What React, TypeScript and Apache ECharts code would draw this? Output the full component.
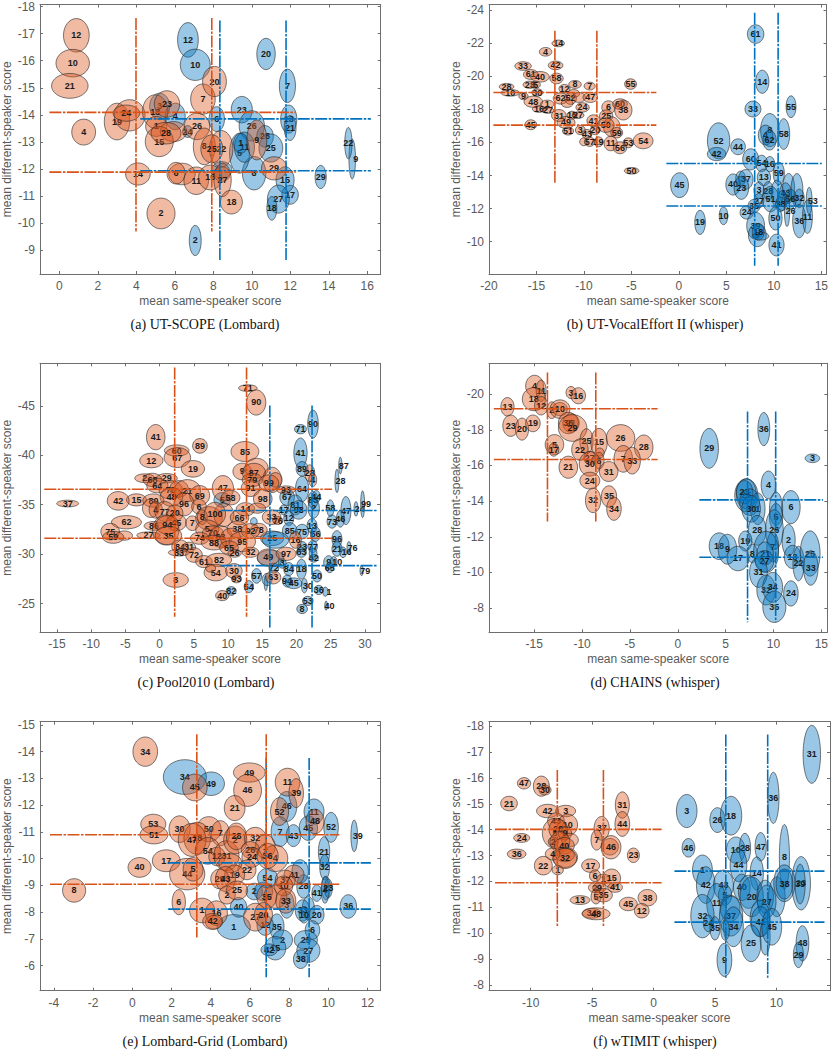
import React, { useEffect, useRef } from "react";
import * as echarts from "echarts";

type E = [string | number, number, number, number, number];

const aBlue: E[] = [[3,5.21,-14.31,.52,.49],[4,6.02,-13.94,.52,.49],[24,6.66,-13.38,.26,.22],[12,6.68,-16.77,.54,.64],[10,7.06,-15.85,.78,.58],[20,10.74,-16.25,.48,.58],[7,11.85,-15.07,.42,.62],[23,9.48,-14.19,.55,.49],[13,11.92,-13.84,.42,.52],[21,11.99,-13.51,.31,.46],[6,8.18,-13.84,.4,.46],[26,10,-13.59,.66,.56],[28,10.69,-13.2,.43,.4],[25,10.99,-12.77,.62,.52],[9,15.22,-12.36,.17,.74],[22,15.02,-12.95,.19,.58],[29,13.58,-11.7,.29,.43],[8,10.12,-11.84,.61,.62],[5,9.36,-12.58,.52,.74],[11,9.62,-12.8,.52,.56],[1,9.43,-12.95,.38,.37],[17,11.99,-11.04,.43,.35],[15,11.73,-11.59,.47,.49],[27,11.38,-10.88,.57,.52],[18,11.04,-10.54,.26,.44],[2,7.06,-9.35,.31,.56],["",8.44,-11.96,.52,.31]];
const aRed: E[] = [[12,.88,-16.94,.67,.62],[10,.69,-15.91,.87,.51],[21,.54,-15.07,.95,.46],[4,1.26,-13.36,.62,.48],[19,2.99,-13.75,.66,.68],["",3.65,-13.98,.8,.58],[24,3.48,-14.06,.69,.3],[13,4.98,-14.12,.66,.62],[23,5.59,-14.4,.66,.49],[1,5.03,-13.57,.55,.37],["",5.93,-13.38,.69,.37],[15,5.19,-13.01,.73,.56],[28,5.54,-13.32,.78,.4],[26,7.15,-13.57,.66,.49],[7,7.46,-14.58,.64,.56],[20,8.06,-15.23,.62,.56],[8,7.53,-12.83,.57,.68],[22,8.41,-12.74,.61,.68],[25,7.92,-12.74,.57,.52],["",6.37,-11.81,.69,.4],[6,6.06,-11.84,.47,.4],[14,4.08,-11.81,.64,.41],[11,7.11,-11.56,.64,.51],[16,7.84,-11.68,.61,.46],["",8.44,-11.81,.43,.27],[27,8.48,-11.59,.45,.62],[18,8.94,-10.77,.57,.44],[2,5.28,-10.35,.73,.57],[29,11.16,-12.02,.66,.43],[9,10.26,-13.07,.52,.74]];
const aRedLines = { v: [3.98, 7.92], vs: [-17.58, -9.68], h: [-14.09, -11.88], hs: [-0.52, 12.28] };
const aBlueLines = { v: [8.34, 11.78], vs: [-17.49, -8.6], h: [-13.85, -11.93], hs: [4.2, 16.19] };

const bBlue: E[] = [[61,8.08,-22.55,.87,.56],[14,8.78,-19.67,.7,.7],[55,11.81,-18.16,.52,.66],[33,7.8,-18.02,.84,.48],[8,9.58,-16.75,.98,1],[4,9.13,-16.45,.77,.6],[62,9.54,-16.14,.7,.6],[58,11.04,-16.51,.63,.93],[52,4.18,-16.1,1.18,1.09],[42,3.97,-15.3,.98,.4],[44,6.23,-15.74,.77,.48],[60,7.56,-14.98,.84,.64],[54,8.71,-14.73,.63,.5],[16,9.58,-14.69,.52,.46],[59,10.52,-14.13,.59,.68],[45,.07,-13.42,.94,.75],[13,8.95,-13.89,.7,.5],["",6.5,-13.83,.52,.44],[37,7.04,-13.77,.77,.6],[40,5.71,-13.46,.77,.64],[23,6.58,-13.26,.77,.7],[3,8.43,-13.12,.52,.5],[28,9.4,-13.08,.52,.56],["",11.56,-13.22,.63,.91],["",12.43,-13.12,.63,1],[43,11.22,-12.92,.63,.64],[56,11.74,-12.58,.63,.6],[32,12.68,-12.62,.52,.56],[53,13.72,-12.48,.31,.81],["",10.34,-12.92,.63,.81],[51,9.65,-12.58,.87,.77],["",10.87,-12.48,.52,.6],[38,10.69,-12.26,.52,.44],[27,8.43,-12.48,.52,.44],[35,7.91,-12.16,.63,.4],[24,7.14,-11.77,.7,.4],[26,11.39,-11.87,.28,.95],[50,10.17,-11.41,.7,.7],[36,12.68,-11.25,.7,1.01],[11,13.54,-11.51,.52,1.01],[10,4.7,-11.57,.45,.54],[19,2.23,-11.17,.56,.73],[39,8.08,-10.97,.94,.81],[9,8.26,-10.4,.94,.7],["",8.6,-10.34,.87,.24],[18,8.36,-10.6,.63,.5],[41,10.28,-9.8,.8,.66]];
const bRed: E[] = [[14,-12.71,-21.99,.66,.2],[4,-14.04,-21.48,.66,.26],[33,-16.41,-20.62,.87,.26],[42,-12.99,-20.66,.77,.26],[61,-15.6,-20.11,.77,.3],[40,-14.63,-19.97,.98,.32],[58,-12.89,-19.87,.7,.32],[23,-15.71,-19.49,.7,.22],[5,-15.08,-19.49,.49,.22],[28,-18.15,-19.37,.77,.2],[10,-17.76,-19,.98,.2],[30,-14.91,-19.02,.59,.22],[9,-16.37,-18.8,.49,.22],[48,-15.33,-18.46,.98,.34],[1,-13.86,-18.32,.7,.24],[16,-14.73,-18.02,.7,.2],[27,-13.79,-17.94,.63,.18],[8,-10.94,-19.51,.66,.24],[7,-9.4,-19.41,.59,.24],[12,-12.05,-19.25,.59,.26],[55,-5.09,-19.53,.63,.32],["",-11.08,-18.96,.63,.24],[62,-12.47,-18.66,.77,.34],[52,-11.42,-18.66,.63,.36],["",-10.55,-18.72,.7,.3],[47,-9.33,-18.72,.77,.3],["",-11.77,-18.36,.63,.24],[24,-10.14,-18.12,.7,.28],[31,-12.64,-17.63,.77,.36],[49,-11.88,-17.21,.94,.36],[51,-11.67,-16.69,.59,.24],[15,-11.25,-17.65,.52,.24],[27,-10.62,-17.65,.63,.2],[6,-7.42,-18.12,.7,.4],[60,-6.2,-18.32,.77,.32],[38,-5.85,-17.96,.91,.6],[25,-7.66,-17.61,.7,.36],[41,-8.99,-17.31,.7,.36],["",-7.07,-16.95,.87,.6],[50,-7.7,-17.05,.87,.44],[59,-6.55,-16.59,.63,.32],[3,-10.38,-16.75,.52,.28],[43,-9.68,-16.51,.52,.28],[20,-8.81,-16.75,.52,.28],["",-10.03,-16.04,.42,.24],[57,-9.4,-16.04,.56,.28],[19,-8.46,-16.04,.49,.3],[11,-7.18,-15.94,.7,.44],[56,-6.2,-15.68,.7,.36],[53,-5.33,-15.98,.56,.3],[54,-3.76,-16.1,1.04,.48],[50,-4.98,-14.29,.77,.2],[45,-15.6,-17.07,.63,.3]];
const bRedLines = { v: [-13.06, -8.64], vs: [-22.75, -13.57], h: [-19.02, -17.05], hs: [-19.54, -2.37] };
const bBlueLines = { v: [7.98, 10.45], vs: [-23.84, -8.55], h: [-14.73, -12.16], hs: [-1.32, 15.05] };

const cBlue: E[] = [[90,22.41,-43.15,.78,1.42],[71,20.58,-42.64,.87,.47],[41,20.58,-40.23,.97,1.52],[89,20.81,-38.63,.87,.74],[64,20.82,-36.6,.97,1.28],[87,26.41,-38.96,.24,.84],[28,25.91,-37.41,.29,1.18],[58,24.95,-34.65,.53,.84],[47,27.22,-34.41,.73,1.42],[24,28.69,-34.58,.29,.74],[99,29.66,-35.05,.29,1.35],[73,25.19,-33.3,.73,.67],[46,26.41,-33.57,.58,.84],[96,25.91,-31.54,.73,.84],[21,25.91,-30.53,.73,.74],[16,26.8,-30.19,.49,.54],[76,27.66,-30.67,.29,.61],[79,29.52,-28.34,.24,.51],[9,24.7,-29.18,.73,.67],[10,25.43,-29.25,.49,.51],[65,24.85,-28.64,.58,.51],[67,18.63,-35.76,1.07,.84],[83,22.41,-35.49,.73,.84],[44,22.9,-35.83,.58,.61],[81,19.83,-34.98,1.07,1.01],[98,20.32,-34.48,1.21,.94],[2,22.51,-34.65,.83,1.01],[17,18.14,-34.48,.58,.51],[12,18.87,-33.63,.73,.74],[13,22.27,-32.86,.73,.74],[85,19.01,-32.35,1.07,.84],[75,20.81,-32.28,.97,.74],[56,22.76,-32.02,.73,.74],[25,16.44,-31.61,1.7,.74],["",16.93,-31.44,1.94,.84],[23,20.81,-30.77,.73,.51],[77,22.37,-30.77,.68,.61],[63,20.72,-30.19,.73,.51],["",22.42,-30.09,.58,.51],[42,22.51,-29.59,.68,.4],[5,9.15,-35.49,1.21,.74],[82,10.46,-26.28,.73,.44],[54,13.04,-26.72,.68,.61],[57,14.16,-27.8,.73,.74],["",15.52,-27.06,.24,.74],["",16.2,-29.59,1.94,.84],[72,16.69,-28.59,.73,.51],[3,17.91,-29.09,.58,.51],[84,18.87,-28.49,.73,.67],[18,20.72,-28.49,.73,1.01],[50,23,-27.8,.68,.61],[94,18.63,-27.29,.68,.61],[45,19.6,-27.06,1.21,.54],["",15.7,-27.44,.73,.61],[30,21.15,-26.82,.44,.74],[36,23.25,-26.38,.68,.47],[1,24.22,-26.21,.39,.47],[53,21.65,-25.27,.78,.47],[8,20.82,-24.46,.78,.47],[40,24.32,-24.8,.19,.47],["",13.77,-33.3,.49,.4]];
const cRed: E[] = [[71,12.89,-46.79,1.36,.34],[90,14.11,-45.34,1.41,1.28],[41,-.57,-41.83,1.36,1.28],[60,2.49,-40.48,1.8,.57],[67,2.59,-39.77,1.94,1.01],[89,5.89,-40.95,1.07,.74],[12,-1.21,-39.47,1.7,.74],[19,4.87,-38.63,1.7,.84],[85,12.46,-40.38,2.04,1.01],[9,12.07,-38.36,1.36,.84],["",14.16,-38.69,1.7,1.01],[87,13.77,-38.25,1.7,.94],[79,13.53,-37.51,1.46,.67],["",16.44,-37.51,1.36,1.28],["",16.93,-37.51,.97,.74],[99,15.95,-37.18,1.46,.84],[91,13.28,-36.67,1.36,.84],[47,9.24,-36.67,1.55,1.28],[58,10.37,-35.72,1.36,.74],[98,15.07,-35.59,1.36,.94],[93,18.48,-36.5,1.36,.4],[2,-2.17,-37.68,1.46,.44],[29,1.03,-37.68,1.55,.47],[68,-1.05,-37.51,1.36,.67],[64,-.33,-36.94,1.55,.74],[78,1.62,-36.5,1.7,.94],["",2.83,-36.6,1.36,.84],[21,4.05,-36.43,1.94,1.11],[69,5.85,-35.93,1.46,1.01],[48,1.72,-35.79,1.65,.94],[96,3.56,-35.05,1.46,1.18],[6,5.75,-34.81,1.07,.74],[15,-3.39,-35.49,1.46,.61],[80,-.91,-35.42,1.55,.67],[42,-6.06,-35.39,1.6,.94],[37,-13.44,-35.12,1.6,.34],["",-1.3,-34.65,1.21,.94],[4,-.57,-34.48,.97,.84],[77,.74,-34.31,1.46,1.01],[20,2.2,-34.14,1.21,.84],[62,-4.85,-33.23,2.19,.67],[75,-7.23,-32.28,1.36,.84],["",-5.18,-31.88,1.21,.47],[59,-6.79,-31.71,1.55,.61],[27,-1.64,-31.91,1.7,.34],[86,-.81,-32.86,1.46,.44],["",.89,-32.45,1.94,1.52],[45,2.44,-33.2,1.46,.84],[94,1.13,-32.96,1.7,.94],[35,1.28,-31.88,1.94,.94],[7,4.78,-33.13,.97,.74],["",7.21,-33.63,1.94,1.18],["",9.39,-33.97,1.46,1.18],[8,6.23,-33.74,.73,.74],[100,8.08,-34.07,1.55,1.18],[14,12.55,-34.54,1.36,.67],["",14.26,-34.65,1.21,.51],[66,11.68,-33.7,1.36,.74],[5,6.96,-32.52,1.7,.94],[70,7.79,-32.12,1.55,.74],[74,5.85,-31.61,1.36,.61],[63,8.91,-31.78,1.7,1.08],[88,7.94,-31.17,1.85,.74],[38,11.34,-32.52,1.46,.84],[78,14.5,-32.45,1.21,.67],[92,13.28,-32.35,1.36,.74],["",10.37,-31.61,1.46,1.01],[95,12.07,-31.27,1.94,1.01],[65,10.13,-30.67,1.36,.67],[26,10.95,-30.09,.97,.4],[84,2.98,-30.77,1.21,.67],[31,4.29,-30.7,.97,.51],[83,2.83,-30.16,1.55,.34],[72,5.02,-29.92,1.21,.74],[61,6.48,-29.25,1.21,.61],[82,8.67,-29.42,1.85,.67],[54,8.19,-28.14,1.7,.84],["",7.45,-28.58,.73,.4],[30,10.85,-28.31,1.21,.74],[93,11.24,-27.5,.73,.4],[32,13.28,-30.19,1.21,.51],[8,2.35,-27.39,1.85,.74],[40,9.15,-25.81,.97,.51],[49,15.87,-29.69,1.6,.84],[97,18.48,-30.03,1.46,.67],[63,16.59,-27.66,1.12,.67],[33,16.36,-33.74,1.36,.74],[76,17.26,-33.4,.73,.4],[16,19.84,-31.44,.87,.84],[28,21.93,-38.19,.73,.84],[4,22.37,-37.51,.58,.67]];
const cRedLines = { v: [2.2, 12.7], vs: [-48.88, -23.68], h: [-36.57, -31.61], hs: [-16.85, 25.19] };
const cBlueLines = { v: [16.1, 22.27], vs: [-45.03, -22.57], h: [-34.41, -28.84], hs: [8.9, 31.74] };

const dBlue: E[] = [[36,8.99,-18.04,.62,.93],[29,3.28,-16.96,.97,1.12],[3,14.07,-16.4,.76,.24],[4,9.47,-14.91,.76,.78],[6,11.82,-13.66,.97,.93],[25,7.16,-14.32,1.21,.93],["",7.16,-14.41,1.04,.84],[23,6.98,-14.5,.86,.65],["",7.5,-13.94,1.04,.75],[1,8.36,-13.57,.76,.89],[30,7.67,-13.57,.97,.75],["",10.27,-13.57,.69,.93],[5,10.27,-13.11,.69,.75],[26,10.09,-12.4,.93,1.12],[28,8.3,-12.36,.93,.84],[2,11.58,-11.8,.69,.89],[19,7.05,-11.76,.69,.56],[7,9.92,-11.43,.62,.84],[18,4.32,-11.47,1.04,.75],[9,5.19,-11.3,.97,.84],[17,6.29,-10.78,1.14,.69],[8,7.78,-11.06,.52,.52],["",9.23,-11.15,1.31,1.16],[21,9.13,-11.06,.86,.65],[27,9.06,-10.63,.97,.6],[31,8.43,-10,.93,.84],[13,11.99,-10.87,.86,.65],[22,12.62,-10.5,.59,.97],[25,13.83,-11.06,1.04,1.27],[33,13.9,-10.25,.76,.97],[32,9.23,-9.01,.97,.84],[34,9.92,-9.16,1.04,.84],[24,11.82,-8.82,.76,.71],[35,10.09,-8.07,1.21,.88]];
const dRed: E[] = [[4,-14.97,-20.46,.93,.6],[11,-14.28,-20.19,.52,.6],[18,-15.04,-19.72,1.21,.65],[12,-14.28,-19.35,.69,.52],[13,-17.8,-19.29,.69,.52],[3,-11.16,-20.09,.52,.34],[16,-10.4,-19.91,.76,.45],[2,-13.17,-19.1,.52,.47],["",-12.31,-19.16,.76,.37],[10,-12.31,-19.16,1.04,.52],[23,-17.46,-18.23,.83,.6],[20,-16.28,-18.04,.69,.62],[19,-15.14,-18.36,.76,.47],[21,-11.16,-18.38,.86,.52],[36,-11.44,-18.38,1.04,.6],[29,-10.99,-18.1,1.49,.75],[25,-9.54,-17.35,.69,.71],[15,-8.23,-17.3,.86,.78],[26,-5.98,-17.54,1.49,.75],[28,-3.56,-17.02,.97,.69],[22,-10.23,-16.89,.86,.6],[5,-12.89,-17.17,.97,.56],[17,-12.96,-16.89,.52,.37],[27,-9.19,-16.42,.62,.37],["",-8.16,-16.7,.48,.28],[8,-8.23,-16.27,.52,.47],[7,-5.7,-16.37,.97,.75],[33,-4.77,-16.27,.86,.75],[30,-9.19,-16.09,1.11,.69],[21,-11.44,-15.9,.97,.62],[31,-7.22,-15.66,.97,.56],[24,-9.19,-15.15,1.04,.47],[32,-8.85,-14.04,.8,.69],[35,-7.19,-14.26,.8,.6],[34,-6.67,-13.57,.76,.65]];
const dRedLines = { v: [-13.62, -8.57], vs: [-21.21, -12.86], h: [-19.18, -16.33], hs: [-19.22, -2.11] };
const dBlueLines = { v: [7.29, 10.23], vs: [-19.03, -7.2], h: [-14.07, -10.85], hs: [2.25, 15.17] };

const eBlue: E[] = [[34,2.68,-13.05,1.1,.65],[49,4.02,-12.8,.68,.44],[45,8.98,-11.14,.47,.46],[46,7.88,-11.95,.51,.56],[11,9.27,-11.76,.51,.47],[7,7.54,-11.01,.46,.56],[43,8.22,-10.86,.37,.41],[52,10.14,-11.17,.37,.56],[39,11.32,-10.85,.17,.59],[21,9.78,-10.26,.29,.56],[32,9.81,-9.68,.25,.47],[1,9.88,-8.9,.22,.44],[4,9.83,-8.83,.2,.5],[23,10,-8.89,.2,.35],[41,9.41,-8.71,.25,.31],[36,11.02,-8.21,.42,.44],[28,8.73,-8.96,.34,.44],["",8.56,-9.52,.42,.44],[3,7.88,-8.27,.37,.5],["",8.98,-8.14,.31,.44],[33,8.68,-8.06,.37,.4],[10,8.76,-7.9,.25,.31],[20,9.41,-7.9,.37,.35],[6,9.19,-7.33,.37,.35],[25,8.85,-6.96,.59,.35],[27,8.98,-6.56,.59,.44],[38,8.59,-6.24,.37,.35],[35,7.37,-7.46,.37,.47],[2,7.66,-6.96,.51,.37],[15,7.29,-6.65,.54,.44],[42,6.98,-6.59,.42,.22],[12,6.78,-7.5,.42,.37],[1,5.17,-7.44,.85,.47],[40,5.42,-8.18,.42,.37],[2,6.22,-8.77,.42,.31],["",6.69,-8.77,.47,.35],[54,6.9,-9.27,.51,.37]];
const eRed: E[] = [[34,.66,-14,.63,.55],[49,5.97,-13.22,.81,.36],[46,5.88,-12.55,.71,.6],[11,7.92,-12.86,.63,.52],[39,8.36,-12.45,.37,.54],[21,5.22,-11.89,.53,.47],[52,7.51,-11.76,.46,.52],[48,9.32,-11.39,.46,.46],[45,3.19,-12.66,.63,.5],[53,1.07,-11.29,.64,.37],[51,1.1,-10.89,.71,.34],[30,2.41,-11.1,.54,.5],[50,3.9,-11.1,.63,.47],[7,4.49,-10.95,.47,.47],[18,3.31,-10.76,.68,.6],[47,3.05,-10.7,.71,.62],[54,3.85,-10.29,.64,.5],[40,.37,-9.67,.59,.37],[17,1.73,-9.92,.71,.41],[44,2.8,-9.42,.9,.59],[5,3.1,-9.6,.51,.44],[8,-2.97,-8.81,.59,.44],[6,2.37,-8.37,.34,.47],[12,4.32,-10.08,.42,.35],[31,4.8,-10.11,.64,.56],[2,5.25,-10.7,.59,.52],[28,5.31,-10.83,.51,.5],[32,6.27,-10.76,.56,.41],[1,6.78,-10.45,.51,.44],[26,6.02,-10.33,.46,.31],[24,6.1,-10.05,.51,.37],[4,7.29,-10.01,.64,.5],[36,6.9,-10.1,.54,.47],[22,5.85,-9.58,.46,.37],["",5,-9.83,.59,.35],[19,5.22,-9.39,.51,.37],[29,4.46,-9.24,.46,.37],[43,4.75,-9.24,.51,.47],[2,4.83,-8.64,.42,.34],[25,5.34,-8.81,.54,.35],[41,8.25,-9.39,.51,.37],[37,7.8,-9.2,.51,.37],[10,7.71,-8.98,.47,.37],["",7.29,-8.58,.59,.44],[35,6.86,-8.58,.51,.44],[33,7.83,-8.42,.51,.46],[1,3.56,-8.06,.64,.46],[16,4.29,-7.96,.56,.46],["",4.15,-7.62,.42,.25],[42,4.1,-7.65,.51,.3],[27,6.27,-7.81,.59,.52],[20,6.69,-7.9,.46,.46]];
const eRedLines = { v: [3.29, 6.83], vs: [-14.65, -7.05], h: [-10.89, -9.04], hs: [-4.2, 10.56] };
const eBlueLines = { v: [6.83, 9.02], vs: [-13.76, -5.56], h: [-9.84, -8.11], hs: [1.83, 12.17] };

const fBlue: E[] = [[31,12.88,-16.91,.71,1.12],[36,9.75,-15.23,.46,.99],[3,2.7,-14.72,.84,.64],[26,5.2,-14.37,.62,.48],[18,6.31,-14.54,.87,.75],[46,2.84,-13.3,.52,.36],[10,6.69,-13.21,.76,.51],[28,7.44,-13.28,.46,.58],[47,8.72,-13.34,.46,.55],[8,10.65,-12.95,.41,1.25],[44,6.91,-12.63,.68,.64],[1,3.98,-12.44,.81,.58],[23,12.01,-11.93,.76,1.03],[39,11.93,-11.9,.41,.77],[14,8.4,-12.31,.54,.64],[42,4.25,-11.86,.76,.71],[43,5.69,-11.86,.81,.58],[5,5.82,-11.47,.54,.39],[40,7.18,-11.77,.68,.51],["",7.72,-11.6,.81,.64],[20,7.99,-11.41,.95,.77],["",9.08,-11.41,.68,.64],["",10.03,-11.41,.68,.77],[27,9.21,-11.22,.76,.64],["",10.65,-11.93,.87,.71],[38,10.65,-11.9,.68,.58],[11,5.14,-11.15,.81,.77],[32,3.98,-10.66,.95,.84],[24,4.46,-10.38,.41,.32],[35,5,-10.19,.41,.45],["",6.23,-10.96,.81,.51],[37,6.31,-10.66,.95,.77],[34,6.5,-10.25,.81,.77],["",5.82,-10.12,.35,.39],["",8.67,-10.57,.81,.71],[41,8.72,-10.45,.76,.58],["",9.08,-9.87,.41,.71],[45,9.62,-10.25,.81,.71],[25,7.94,-9.61,.81,.71],[9,5.77,-8.97,.6,.64],[48,12.12,-9.61,.52,.68],[29,11.79,-9.16,.41,.49]];
const fRed: E[] = [[47,-10.54,-15.79,.54,.22],[28,-9.13,-15.68,.65,.39],[30,-8.83,-15.53,.49,.19],[21,-11.76,-15.01,.68,.28],[42,-8.62,-14.72,.9,.26],[3,-7.15,-14.72,.81,.22],[43,-7.94,-14.33,.68,.32],[10,-6.99,-14.18,.81,.42],[5,-8.02,-13.86,1.03,.58],[20,-7.75,-14.01,.76,.39],[9,-7.21,-13.86,.54,.26],["",-6.8,-13.6,.68,.26],[2,-8.16,-13.53,.41,.19],["",-7.62,-13.53,.81,.39],[40,-7.26,-13.38,.81,.32],["",-7.21,-12.93,1.03,.39],["",-7.21,-13.02,.76,.26],[32,-7.21,-12.89,.95,.39],[4,-8.21,-13.06,.6,.23],[22,-8.97,-12.61,.73,.36],[1,-7.8,-12.44,.46,.18],[24,-10.73,-13.68,.65,.17],[36,-11.14,-13.06,.76,.19],[37,-4.22,-14.05,.62,.46],[7,-4.63,-13.6,.46,.39],["",-3.54,-13.34,.68,.32],[46,-3.46,-13.32,.81,.45],[31,-2.54,-14.95,.57,.51],[44,-2.54,-14.22,.6,.48],[23,-1.64,-13.01,.49,.28],[17,-5.12,-12.61,.73,.26],[6,-4.76,-12.22,.46,.23],[1,-4.08,-12.09,.54,.19],[15,-3.41,-12.12,.73,.36],[41,-3.13,-11.77,.6,.19],[2,-4.76,-11.76,.54,.19],[9,-4.41,-11.76,.54,.19],[5,-4.68,-11.41,.41,.28],[35,-4.08,-11.47,.73,.26],[13,-5.98,-11.28,.81,.17],[34,-5.03,-10.77,.76,.19],[48,-4.68,-10.75,1.14,.23],[45,-2.05,-11.13,.73,.26],[38,-.5,-11.37,.76,.32],[12,-.96,-10.87,.6,.28]];
const fRedLines = { v: [-7.83, -4.08], vs: [-16.3, -10.25], h: [-14.01, -11.95], hs: [-12.9, 0.66] };
const fBlueLines = { v: [5.88, 9.29], vs: [-17.68, -8.28], h: [-12.4, -10.43], hs: [1.7, 13.91] };

const aXTicks = [0, 2, 4, 6, 8, 10, 12, 14, 16];
const aYTicks = [-18, -17, -16, -15, -14, -13, -12, -11, -10, -9];
const bXTicks = [-20, -15, -10, -5, 0, 5, 10, 15];
const bYTicks = [-24, -22, -20, -18, -16, -14, -12, -10];
const cXTicks = [-15, -10, -5, 0, 5, 10, 15, 20, 25, 30];
const cYTicks = [-45, -40, -35, -30, -25];
const dXTicks = [-15, -10, -5, 0, 5, 10, 15];
const dYTicks = [-20, -18, -16, -14, -12, -10, -8];
const eXTicks = [-4, -2, 0, 2, 4, 6, 8, 10, 12];
const eYTicks = [-15, -14, -13, -12, -11, -10, -9, -8, -7, -6];
const fXTicks = [-10, -5, 0, 5, 10];
const fYTicks = [-18, -17, -16, -15, -14, -13, -12, -11, -10, -9, -8];

const panels = [
  { cap: "(a) UT-SCOPE (Lombard)", capX: 205, capY: 324, box: [39.5, 380.7, 4.5, 274], xr: [-1.01, 16.7], yr: [-18.08, -8.11], xt: aXTicks, yt: aYTicks, blue: aBlue, red: aRed, rl: aRedLines, bl: aBlueLines },
  { cap: "(b) UT-VocalEffort II (whisper)", capX: 655, capY: 324, box: [489, 830, 4.5, 274], xr: [-20, 15.55], yr: [-24.34, -8.05], xt: bXTicks, yt: bYTicks, blue: bBlue, red: bRed, rl: bRedLines, bl: bBlueLines },
  { cap: "(c) Pool2010 (Lombard)", capX: 206, capY: 682, box: [39, 380, 363.3, 632.3], xr: [-17.48, 32.2], yr: [-49.3, -22.1], xt: cXTicks, yt: cYTicks, blue: cBlue, red: cRed, rl: cRedLines, bl: cBlueLines },
  { cap: "(d) CHAINS (whisper)", capX: 655, capY: 682, box: [489, 830, 363.3, 632.3], xr: [-19.73, 15.63], yr: [-21.73, -6.64], xt: dXTicks, yt: dYTicks, blue: dBlue, red: dRed, rl: dRedLines, bl: dBlueLines },
  { cap: "(e) Lombard-Grid (Lombard)", capX: 205, capY: 1041, box: [39, 380.3, 721.7, 990.7], xr: [-4.71, 12.65], yr: [-15.12, -5.06], xt: eXTicks, yt: eYTicks, blue: eBlue, red: eRed, rl: eRedLines, bl: eBlueLines },
  { cap: "(f) wTIMIT (whisper)", capX: 655, capY: 1041, box: [489, 830, 721.7, 990.7], xr: [-13.39, 14.36], yr: [-18.17, -7.78], xt: fXTicks, yt: fYTicks, blue: fBlue, red: fRed, rl: fRedLines, bl: fBlueLines },
];

const RED = "#D95319";
const BLUE = "#0072BD";
const AXIS = "#6e6e6e";
const TEXT = "#5a5a5a";
const SANS = '"Liberation Sans", Arial, sans-serif';

function ellipseSeries(items: E[], fill: string, idx: number) {
  return {
    type: "custom",
    xAxisIndex: idx * 2,
    yAxisIndex: idx * 2,
    clip: false,
    silent: true,
    encode: { x: 1, y: 2 },
    data: items.map((d) => [d[3], d[1], d[2], d[4]]),
    renderItem: (params: any, api: any) => {
      const it = items[params.dataIndex];
      const c = api.coord([it[1], it[2]]);
      const s = api.size([it[3], it[4]]);
      const children: any[] = [
        { type: "ellipse", shape: { cx: c[0], cy: c[1], rx: s[0], ry: s[1] }, style: { fill, stroke: "rgba(40,40,40,0.6)", lineWidth: 1 } },
      ];
      if (it[0] !== "") {
        children.push({
          type: "text",
          style: { text: String(it[0]), x: c[0] + (s[0] < 3.5 ? 3.5 : 0), y: c[1], align: "center", verticalAlign: "middle", fill: "#1a1a1a", font: `bold 9px ${SANS}` },
        });
      }
      return { type: "group", children };
    },
  };
}

function lineSeries(l: { v: number[]; vs: number[]; h: number[]; hs: number[] }, color: string, idx: number) {
  const data: any[] = [];
  l.v.forEach((x) => data.push([x, l.vs[0]], [x, l.vs[1]], ["-", "-"]));
  l.h.forEach((y) => data.push([l.hs[0], y], [l.hs[1], y], ["-", "-"]));
  return {
    type: "line",
    xAxisIndex: idx * 2,
    yAxisIndex: idx * 2,
    data,
    symbol: "none",
    silent: true,
    connectNulls: false,
    lineStyle: { color, width: 1.6, type: [12, 1.5, 2.5, 1.5] },
  };
}

export default function App() {
  const ref = useRef<HTMLDivElement>(null);
  useEffect(() => {
    document.body.style.margin = "0";
    const chart = echarts.init(ref.current!, undefined, { renderer: "svg" });
    const grid: any[] = [];
    const xAxis: any[] = [];
    const yAxis: any[] = [];
    const series: any[] = [];
    const graphic: any[] = [];
    panels.forEach((p, i) => {
      grid.push({ left: p.box[0], width: p.box[1] - p.box[0], top: p.box[2], height: p.box[3] - p.box[2], show: false, containLabel: false });
      const line = { show: true, onZero: false, lineStyle: { color: AXIS, width: 1 } };
      const base = { gridIndex: i, type: "value", splitLine: { show: false }, scale: true };
      xAxis.push({
        ...base, position: "bottom", min: p.xr[0], max: p.xr[1], axisLine: line,
        axisTick: { inside: true, length: 3, lineStyle: { color: AXIS }, customValues: p.xt },
        axisLabel: { color: TEXT, fontSize: 12, fontFamily: SANS, margin: 6, customValues: p.xt },
        name: "mean same-speaker score", nameLocation: "middle", nameGap: 21, nameTextStyle: { color: TEXT, fontSize: 12, fontFamily: SANS },
      });
      xAxis.push({
        ...base, position: "top", min: p.xr[0], max: p.xr[1], axisLine: line,
        axisTick: { inside: true, length: 3, lineStyle: { color: AXIS }, customValues: p.xt },
        axisLabel: { show: false },
      });
      yAxis.push({
        ...base, position: "left", inverse: true, min: p.yr[0], max: p.yr[1], axisLine: line,
        axisTick: { inside: true, length: 3, lineStyle: { color: AXIS }, customValues: p.yt },
        axisLabel: { color: TEXT, fontSize: 12, fontFamily: SANS, margin: 5, customValues: p.yt },
        name: "mean different-speaker score", nameLocation: "middle", nameGap: 27, nameTextStyle: { color: TEXT, fontSize: 12, fontFamily: SANS },
      });
      yAxis.push({
        ...base, position: "right", inverse: true, min: p.yr[0], max: p.yr[1], axisLine: line,
        axisTick: { inside: true, length: 3, lineStyle: { color: AXIS }, customValues: p.yt },
        axisLabel: { show: false },
      });
      series.push(ellipseSeries(p.blue, "rgba(0,114,189,0.4)", i));
      series.push(ellipseSeries(p.red, "rgba(217,83,25,0.4)", i));
      series.push(lineSeries(p.bl, BLUE, i));
      series.push(lineSeries(p.rl, RED, i));
      graphic.push({
        type: "text", x: p.capX, y: p.capY,
        style: { text: p.cap, align: "center", verticalAlign: "middle", fill: "#111", font: '14px "Liberation Serif", serif' },
      });
    });
    chart.setOption({ animation: false, backgroundColor: "#fff", grid, xAxis, yAxis, series, graphic });
    return () => chart.dispose();
  }, []);
  return <div ref={ref} style={{ width: 831, height: 1050 }} />;
}
